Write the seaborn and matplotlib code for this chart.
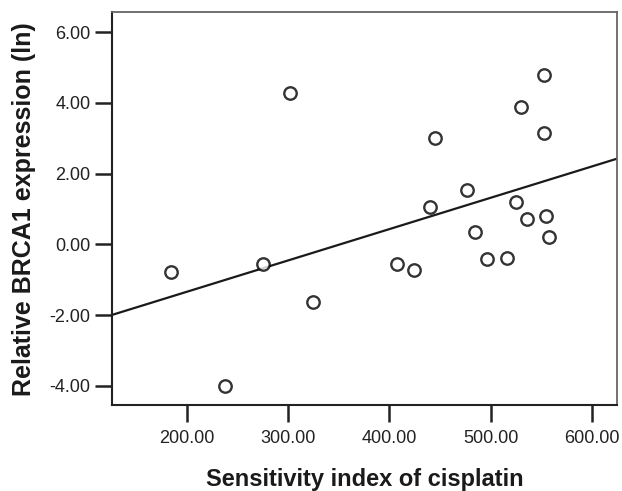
import matplotlib
matplotlib.use('Agg')
import matplotlib.pyplot as plt
import seaborn as sns
import pandas as pd

# values
sensitivity = [184, 237.5, 275, 302, 325, 408, 424, 497, 516, 445,
               440, 477, 485, 525, 536, 555, 558, 530, 553, 553]
brca1 = [-0.79, -4.00, -0.54, 4.29, -1.64, -0.56, -0.71, -0.42, -0.37, 3.02,
         1.05, 1.55, 0.34, 1.19, 0.73, 0.79, 0.20, 3.87, 4.80, 3.14]
x_ticks = [200, 300, 400, 500, 600]
y_ticks = [-4, -2, 0, 2, 4, 6]

df = pd.DataFrame({'x': sensitivity, 'y': brca1})

sns.set_style('white')
plt.rcParams['font.family'] = ['Liberation Sans', 'DejaVu Sans']

fig = plt.figure(figsize=(6.22, 4.91), dpi=100)
ax = fig.add_axes([0.180, 0.175, 0.812, 0.800])

# limits first so the fit line runs across the whole plot, like SPSS
ax.set_xlim(126, 625)
ax.set_ylim(-4.54, 6.56)
sns.regplot(data=df, x='x', y='y', ci=None, truncate=False, ax=ax,
            scatter_kws=dict(s=80, facecolors='white', edgecolors='black', linewidths=1.7, zorder=3),
            line_kws=dict(color='#1a1a1a', linewidth=1.6))
ax.set_xlim(126, 625)
ax.set_ylim(-4.54, 6.56)

ax.set_xticks(x_ticks)
ax.set_yticks(y_ticks)
ax.set_xticklabels([f'{v:.2f}' for v in x_ticks])
ax.set_yticklabels([f'{v:.2f}' for v in y_ticks])

for side in ['left', 'bottom']:
    ax.spines[side].set_color('#222222')
    ax.spines[side].set_linewidth(1.5)
for side in ['top', 'right']:
    ax.spines[side].set_color('#666666')
    ax.spines[side].set_linewidth(1.3)

ax.tick_params(axis='both', direction='out', length=12, width=1.8, color='#222222',
               labelsize=13, labelcolor='#222222')
ax.tick_params(axis='x', pad=6)
ax.tick_params(axis='y', pad=3.5)
ax.tick_params(top=False, right=False, bottom=True, left=True)

ax.set_xlabel('Sensitivity index of cisplatin', fontsize=17, fontweight='bold',
              color='#1a1a1a', labelpad=15)
ax.set_ylabel('Relative BRCA1 expression (ln)', fontsize=18, fontweight='bold',
              color='#1a1a1a', labelpad=10)

fig.savefig('out.png', dpi=100)
